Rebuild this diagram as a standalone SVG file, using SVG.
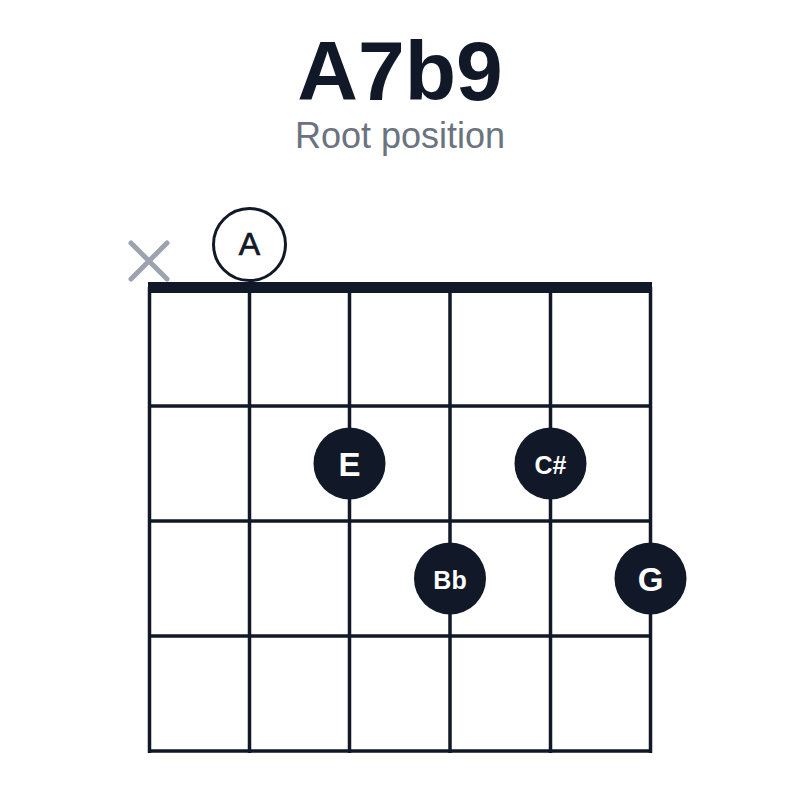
<svg xmlns="http://www.w3.org/2000/svg" width="800" height="800" viewBox="0 0 800 800">
<style>
.title{font-family:"Liberation Sans",Arial,sans-serif;font-weight:bold;font-size:84px;fill:#111827;text-anchor:middle}
.sub{font-family:"Liberation Sans",Arial,sans-serif;font-size:36px;fill:#6b7280;text-anchor:middle}
.grid line{stroke:#111827;stroke-width:3.5}
.dot circle{fill:#111827}
.lbl{font-family:"Liberation Sans",Arial,sans-serif;font-weight:bold;fill:#ffffff;text-anchor:middle;dominant-baseline:central}
.big{font-size:33px}
.small{font-size:25px}
</style>
<rect width="800" height="800" fill="#ffffff"/>
<g id="title">
<text class="title" x="400" y="100">A7b9</text>
<text class="sub" x="400" y="148">Root position</text>
</g>
<g id="connectors" class="grid">
<line x1="149.5" y1="287" x2="149.5" y2="753"/>
<line x1="249.5" y1="287" x2="249.5" y2="753"/>
<line x1="349.5" y1="287" x2="349.5" y2="753"/>
<line x1="450" y1="287" x2="450" y2="753"/>
<line x1="550.5" y1="287" x2="550.5" y2="753"/>
<line x1="650.5" y1="287" x2="650.5" y2="753"/>
<line x1="148" y1="406" x2="652" y2="406"/>
<line x1="148" y1="521" x2="652" y2="521"/>
<line x1="148" y1="636" x2="652" y2="636"/>
<line x1="148" y1="751" x2="652" y2="751"/>
<rect x="148" y="282" width="504" height="11" fill="#111827"/>
</g>
<g id="mute">
<path d="M131 243 L167 279 M167 243 L131 279" stroke="#9ca3af" stroke-width="5" stroke-linecap="round" fill="none"/>
</g>
<g id="open-A">
<circle cx="249.5" cy="244.5" r="36" fill="#ffffff" stroke="#111827" stroke-width="3"/>
<text class="lbl" x="249.5" y="244" style="fill:#111827;stroke:#111827;stroke-width:0.7;font-weight:normal;font-size:32px">A</text>
</g>
<g id="dot-E" class="dot">
<circle cx="349.5" cy="463.5" r="36"/>
<text class="lbl big" x="349.5" y="464">E</text>
</g>
<g id="dot-Cs" class="dot">
<circle cx="550.5" cy="463.5" r="36"/>
<text class="lbl small" x="550.5" y="465">C#</text>
</g>
<g id="dot-Bb" class="dot">
<circle cx="450" cy="578.5" r="36"/>
<text class="lbl small" x="450" y="580">Bb</text>
</g>
<g id="dot-G" class="dot">
<circle cx="650.5" cy="578.5" r="36"/>
<text class="lbl big" x="650.5" y="579">G</text>
</g>
</svg>
